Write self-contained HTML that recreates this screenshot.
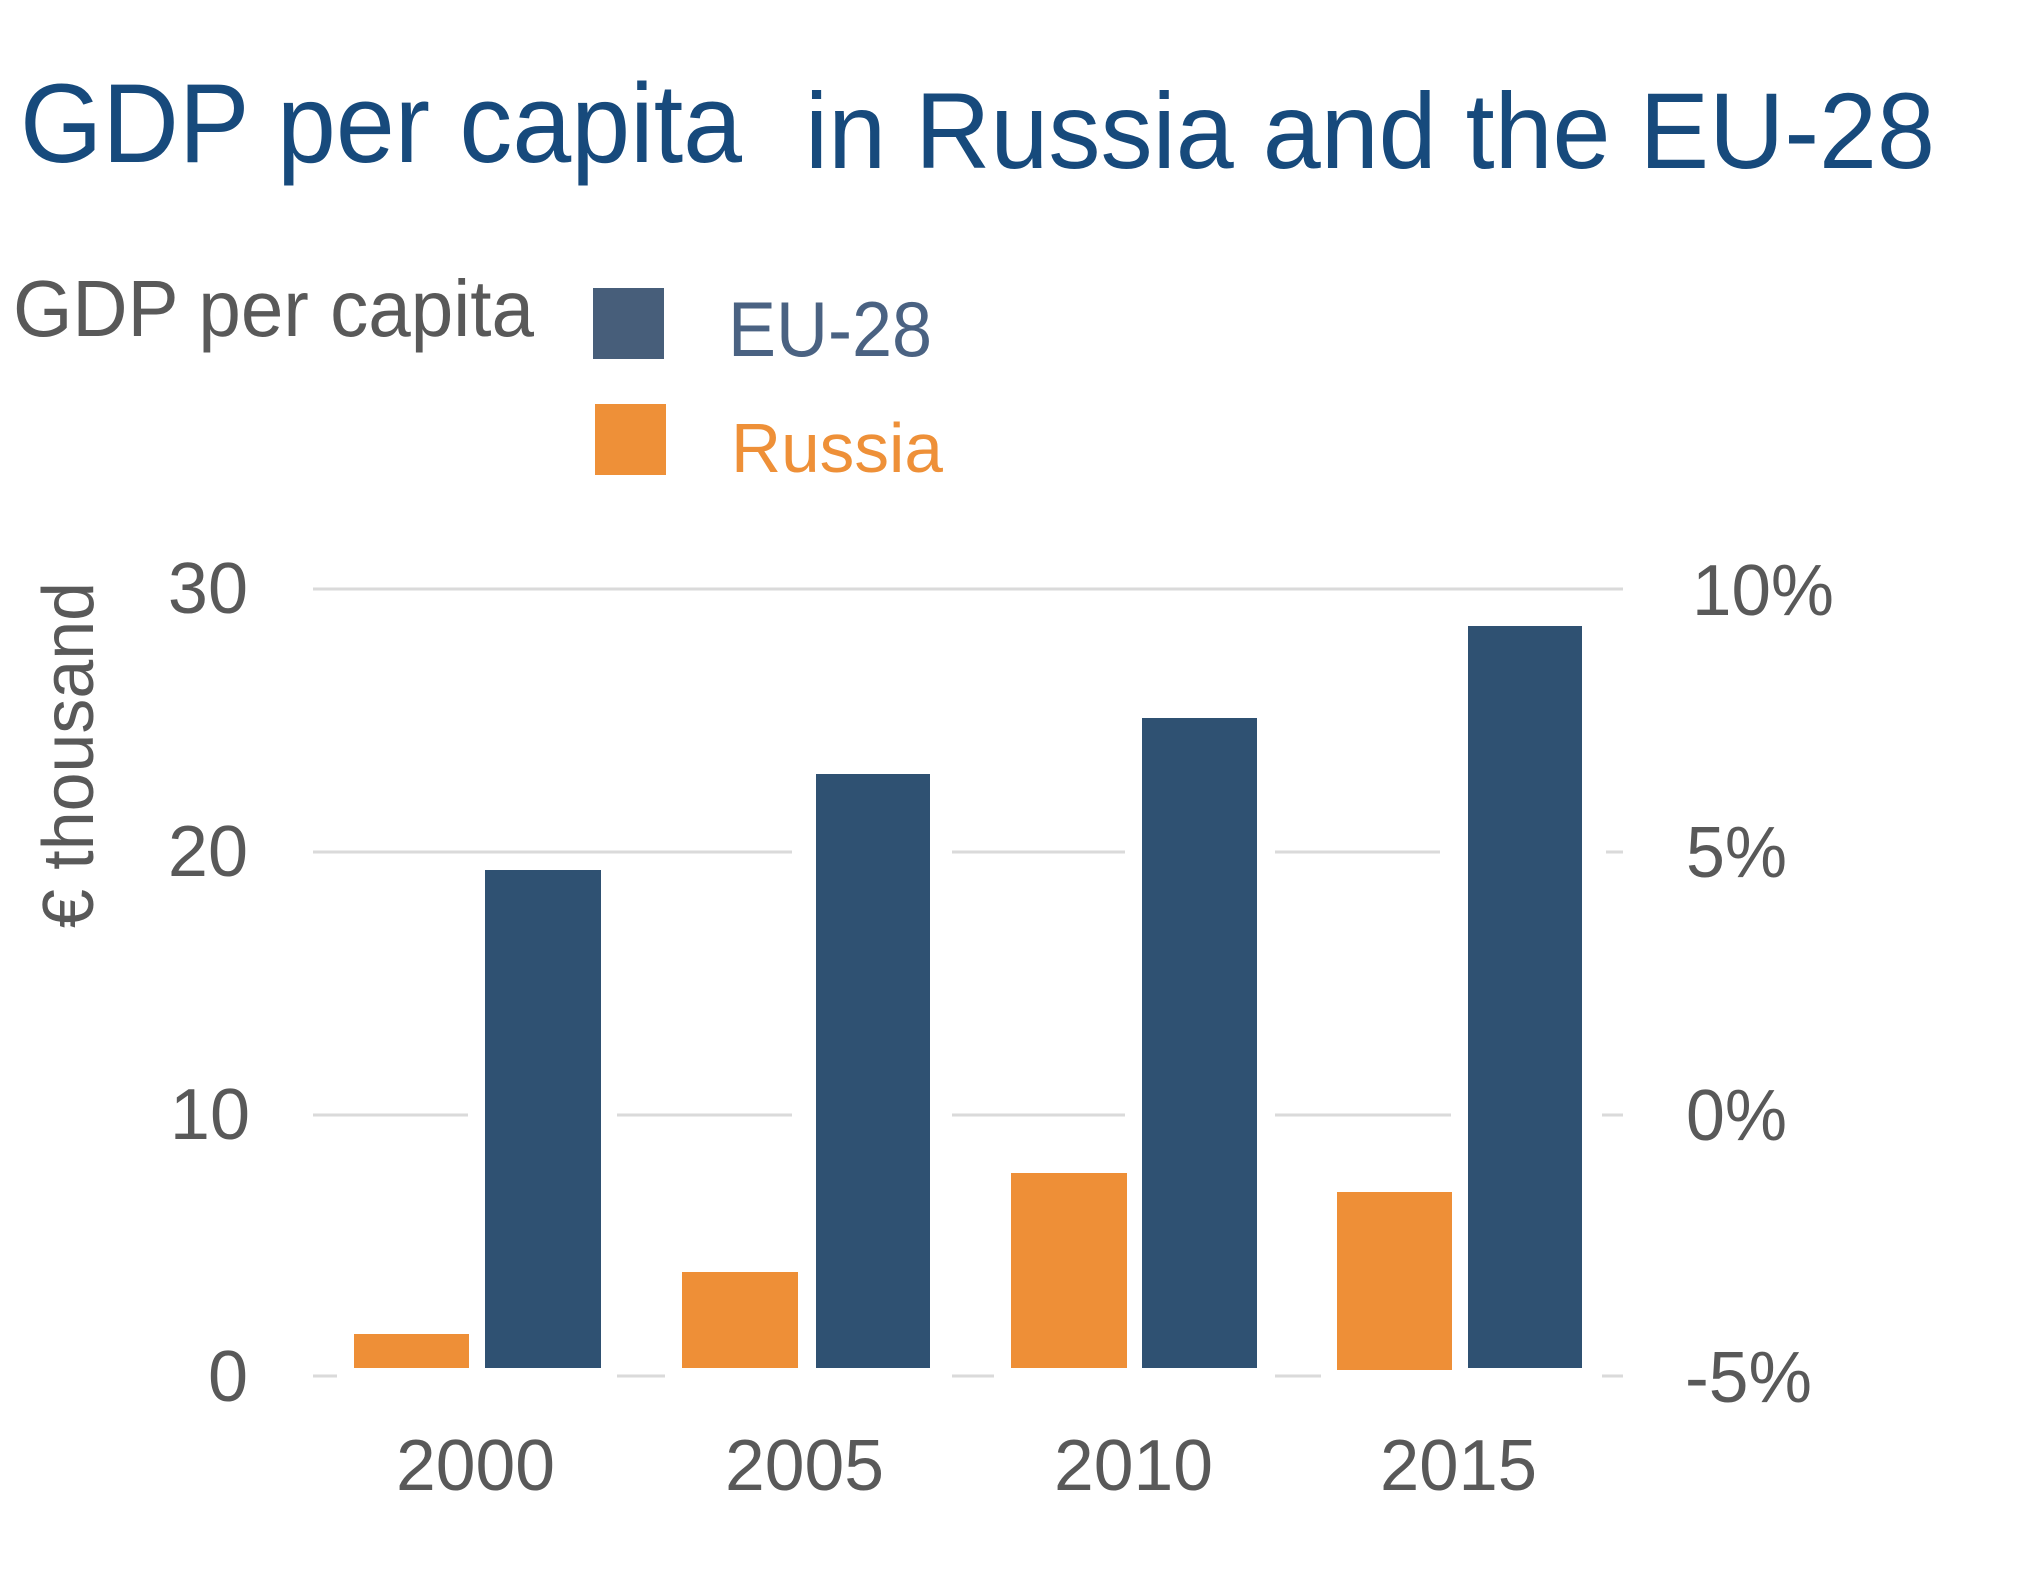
<!DOCTYPE html>
<html>
<head>
<meta charset="utf-8">
<style>
  html, body { margin: 0; padding: 0; background: #ffffff; }
  svg { display: block; }
  text { font-family: "Liberation Sans", Arial, sans-serif; }
</style>
</head>
<body>
<svg width="2017" height="1574" viewBox="0 0 2017 1574" xmlns="http://www.w3.org/2000/svg">
  <rect x="0" y="0" width="2017" height="1574" fill="#ffffff"/>

  <!-- Title -->
  <text x="20" y="162" font-size="112" fill="#174a7c" textLength="722" lengthAdjust="spacingAndGlyphs">GDP per capita</text>
  <text x="805" y="168" font-size="108" fill="#174a7c" textLength="1130" lengthAdjust="spacingAndGlyphs">in Russia and the EU-28</text>

  <!-- Legend -->
  <text x="13" y="336" font-size="80" fill="#595959" textLength="521" lengthAdjust="spacingAndGlyphs">GDP per capita</text>
  <rect x="593" y="288" width="71" height="71" fill="#475e7a"/>
  <text x="728" y="356" font-size="78" fill="#4a6282" textLength="204" lengthAdjust="spacingAndGlyphs">EU-28</text>
  <rect x="595" y="404" width="71" height="71" fill="#ee9038"/>
  <text x="731" y="472" font-size="70" fill="#ee9038" textLength="212" lengthAdjust="spacingAndGlyphs">Russia</text>

  <!-- Y axis title -->
  <text transform="translate(93,928) rotate(-90)" x="0" y="0" font-size="72" fill="#595959" textLength="346" lengthAdjust="spacingAndGlyphs">€ thousand</text>

  <!-- Gridlines -->
  <g stroke="#dadada" stroke-width="3">
    <line x1="313" y1="589" x2="1623" y2="589"/>
    <line x1="313" y1="852" x2="1623" y2="852"/>
    <line x1="313" y1="1115" x2="1623" y2="1115"/>
    <line x1="313" y1="1376" x2="1623" y2="1376"/>
  </g>

  <!-- White padding around bars (gridline gaps) -->
  <g fill="#ffffff">
    <rect x="337" y="1334" width="132" height="48"/>
    <rect x="468" y="870" width="149" height="512"/>
    <rect x="665" y="1272" width="133" height="110"/>
    <rect x="792" y="774" width="160" height="608"/>
    <rect x="994" y="1173" width="133" height="209"/>
    <rect x="1125" y="718" width="150" height="664"/>
    <rect x="1321" y="1192" width="131" height="190"/>
    <rect x="1451" y="626" width="151" height="756"/>
    <rect x="1440" y="840" width="166" height="20"/>
  </g>

  <!-- Bars: Russia -->
  <g fill="#ee8f37">
    <rect x="354" y="1334" width="115" height="34"/>
    <rect x="682" y="1272" width="116" height="96"/>
    <rect x="1011" y="1173" width="116" height="195"/>
    <rect x="1337" y="1192" width="115" height="178"/>
  </g>
  <!-- Bars: EU-28 -->
  <g fill="#2f5172">
    <rect x="485" y="870" width="116" height="498"/>
    <rect x="816" y="774" width="114" height="594"/>
    <rect x="1142" y="718" width="115" height="650"/>
    <rect x="1468" y="626" width="114" height="742"/>
  </g>

  <!-- Left tick labels -->
  <g font-size="72" fill="#595959" text-anchor="end">
    <text x="248" y="613">30</text>
    <text x="248" y="876">20</text>
    <text x="250" y="1139">10</text>
    <text x="248" y="1401">0</text>
  </g>

  <!-- Right tick labels -->
  <g font-size="72" fill="#595959">
    <text x="1692" y="615" textLength="142" lengthAdjust="spacingAndGlyphs">10%</text>
    <text x="1686" y="877" textLength="101" lengthAdjust="spacingAndGlyphs">5%</text>
    <text x="1686" y="1140" textLength="101" lengthAdjust="spacingAndGlyphs">0%</text>
    <text x="1685" y="1402" textLength="127" lengthAdjust="spacingAndGlyphs">-5%</text>
  </g>

  <!-- X labels -->
  <g font-size="72" fill="#595959">
    <text x="396" y="1490" textLength="159" lengthAdjust="spacingAndGlyphs">2000</text>
    <text x="725" y="1490" textLength="159" lengthAdjust="spacingAndGlyphs">2005</text>
    <text x="1054" y="1490" textLength="159" lengthAdjust="spacingAndGlyphs">2010</text>
    <text x="1380" y="1490" textLength="157" lengthAdjust="spacingAndGlyphs">2015</text>
  </g>
</svg>
</body>
</html>
